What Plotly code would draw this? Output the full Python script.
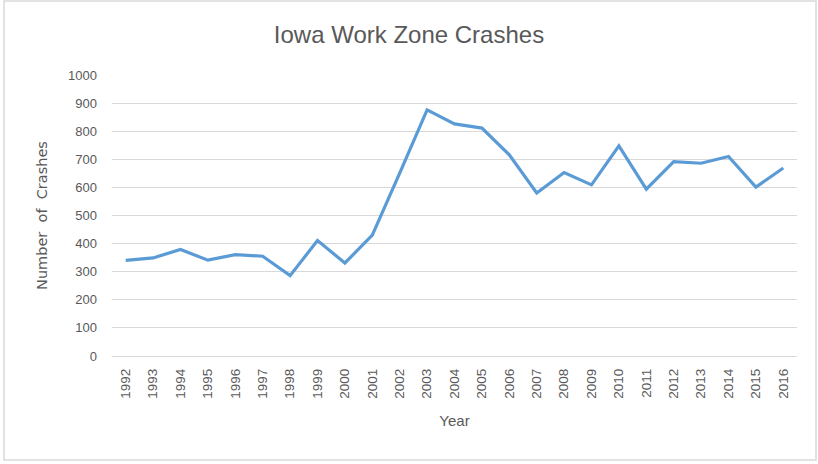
import plotly.graph_objects as go

years = [str(y) for y in range(1992, 2017)]
crashes = [340, 349, 379, 341, 361, 355, 286, 411, 331, 430, 651, 876, 826, 811,
           716, 580, 653, 609, 748, 594, 692, 686, 710, 601, 669]
y_ticks = list(range(0, 1001, 100))

font_family = "Liberation Sans Narrow, Arial Narrow, Liberation Sans, Arial, sans-serif"

fig = go.Figure()
fig.add_trace(go.Scatter(
    x=years, y=crashes, mode="lines",
    line=dict(color="#5B9BD5", width=3.2),
    showlegend=False,
))

fig.update_layout(
    width=818, height=464,
    margin=dict(l=112, r=21, t=75, b=108),
    paper_bgcolor="white", plot_bgcolor="white",
    title=dict(text="Iowa Work Zone Crashes", x=0.5, xanchor="center",
               y=1 - 35 / 464, yanchor="middle",
               font=dict(family=font_family, size=24, color="#595959")),
    font=dict(family=font_family, color="#595959", size=12),
    xaxis=dict(
        type="category", tickangle=-90, showgrid=False, showline=False,
        range=[-0.5, len(years) - 0.5],
        ticks="", tickfont=dict(size=13.5, color="#595959"), ticklabelstandoff=9,
        title=dict(text="Year", font=dict(size=15, color="#595959"), standoff=17),
    ),
    yaxis=dict(
        range=[0, 1000], tickvals=y_ticks, showgrid=True, gridcolor="#D9D9D9",
        gridwidth=1.3, zeroline=True, zerolinecolor="#D9D9D9", zerolinewidth=1.3,
        showline=False, ticks="", ticklabelstandoff=14,
        tickfont=dict(size=13, color="#595959"),
        title=dict(text="Number  of  Crashes",
                   font=dict(family="DejaVu Sans, sans-serif", size=14.5, color="#595959"),
                   standoff=17),
    ),
    shapes=[dict(type="rect", xref="paper", yref="paper",
                 x0=-108 / 685, x1=1 + 19 / 685, y0=-104 / 281, y1=1 + 74 / 281,
                 line=dict(color="#D9D9D9", width=1.5))],
)

fig.write_html("out.html")
